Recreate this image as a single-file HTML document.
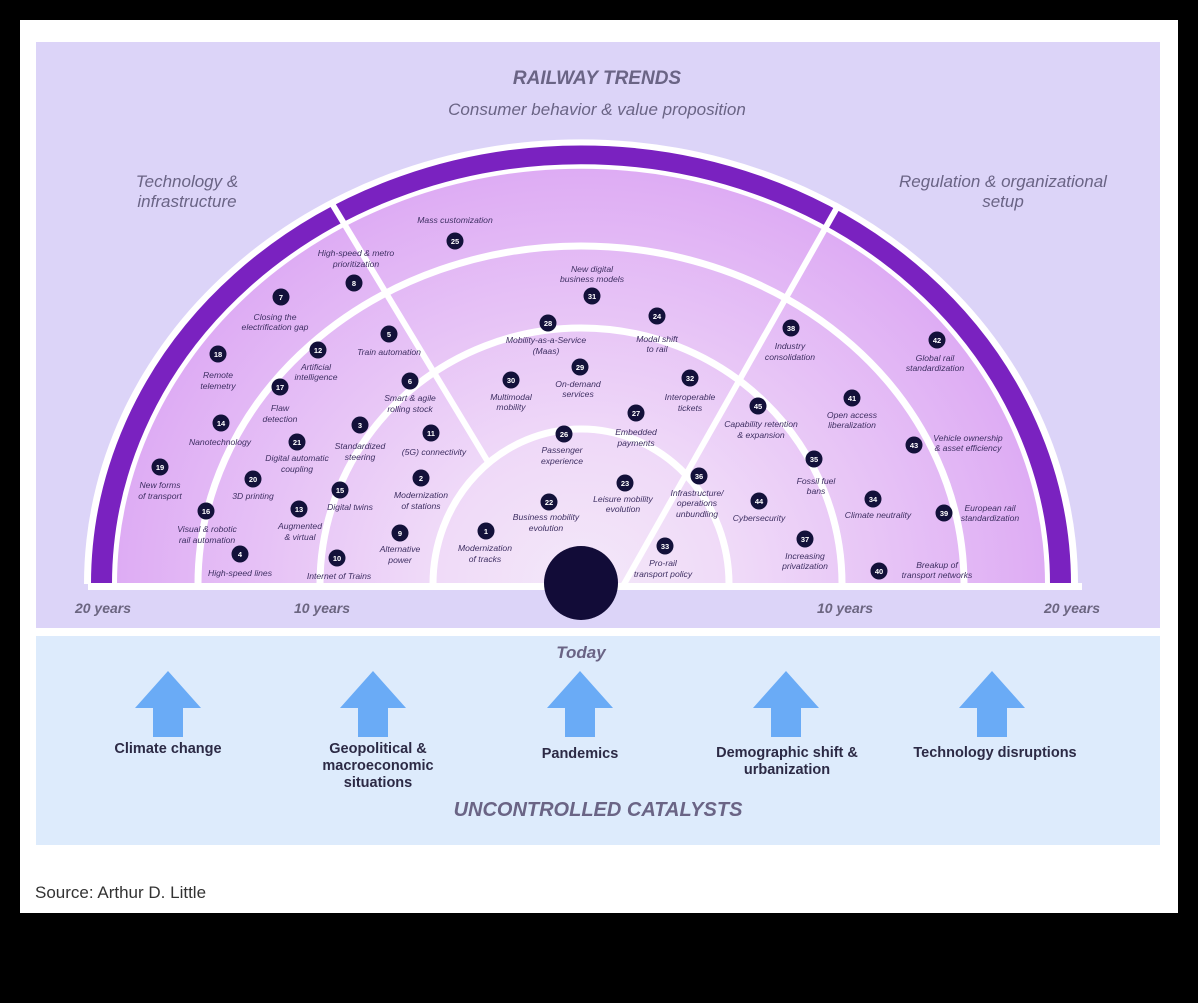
<!DOCTYPE html>
<html><head><meta charset="utf-8"><style>
html,body{margin:0;padding:0;background:#000;}
body{width:1198px;height:1003px;overflow:hidden;position:relative;font-family:"Liberation Sans",sans-serif;}
svg{position:absolute;left:0;top:0;}
.l{font-family:"Liberation Sans",sans-serif;font-style:italic;font-size:8.6px;fill:#3e2f62;text-anchor:middle;}
.n{font-family:"Liberation Sans",sans-serif;font-weight:bold;font-size:7.5px;fill:#fff;text-anchor:middle;}
.h{font-family:"Liberation Sans",sans-serif;font-style:italic;fill:#6a6485;text-anchor:middle;}
.y{font-family:"Liberation Sans",sans-serif;font-style:italic;font-weight:bold;font-size:14px;fill:#6b6580;text-anchor:middle;}
.c{font-family:"Liberation Sans",sans-serif;font-weight:bold;font-size:14.5px;fill:#2c2a45;text-anchor:middle;}
</style></head><body>
<svg width="1198" height="1003" viewBox="0 0 1198 1003">
<defs>
<radialGradient id="g" cx="0" cy="0" r="464" gradientUnits="userSpaceOnUse">
<stop offset="0" stop-color="#f4e8f9"/><stop offset="0.35" stop-color="#efd9f8"/><stop offset="1" stop-color="#deacf4"/>
</radialGradient>
</defs>
<rect x="20" y="20" width="1158" height="893" fill="#fff"/>
<rect x="36" y="42" width="1124" height="586" fill="#dcd4f8"/>
<rect x="36" y="636" width="1124" height="209" fill="#ddebfc"/>

<text class="h" x="597" y="84" font-size="19" font-weight="bold">RAILWAY TRENDS</text>
<text class="h" x="597" y="115" font-size="17">Consumer behavior &amp; value proposition</text>
<text class="h" x="187" y="187" font-size="17">Technology &amp;</text>
<text class="h" x="187" y="207" font-size="17">infrastructure</text>
<text class="h" x="1003" y="187" font-size="17">Regulation &amp; organizational</text>
<text class="h" x="1003" y="207" font-size="17">setup</text>

<g transform="translate(581,584) scale(1,0.895)">
<path d="M -497 0 A 497 497 0 0 1 497 0 Z" fill="#fff"/>
<path d="M -479.5 0 A 479.5 479.5 0 0 1 479.5 0" fill="none" stroke="#7a22c0" stroke-width="21"/>
<path d="M -464 0 A 464 464 0 0 1 464 0 Z" fill="url(#g)"/>
</g>
<g transform="translate(581,584)" fill="none" stroke="#fff" stroke-width="7">
<path d="M -383 0 A 383 338 0 0 1 383 0"/>
<path d="M -261 0 A 261 256 0 0 1 261 0"/>
<path d="M -148 0 A 148 155 0 0 1 148 0"/>
</g>
<rect x="88" y="583" width="994" height="7" fill="#fff"/>
<line x1="331" y1="202" x2="488" y2="462" stroke="#fff" stroke-width="6"/>
<line x1="839" y1="204" x2="623" y2="586" stroke="#fff" stroke-width="6"/>
<circle cx="581" cy="583" r="37" fill="#120c38"/>

<text class="y" x="103" y="613">20 years</text>
<text class="y" x="322" y="613">10 years</text>
<text class="y" x="845" y="613">10 years</text>
<text class="y" x="1072" y="613">20 years</text>

<g id="badges">
<circle cx="455" cy="241" r="8.5" fill="#13113a"/><text class="n" x="455" y="244">25</text>
<text class="l" x="455" y="223">Mass customization</text>
<circle cx="354" cy="283" r="8.5" fill="#13113a"/><text class="n" x="354" y="286">8</text>
<text class="l" x="356" y="256">High-speed &amp; metro</text><text class="l" x="356" y="267">prioritization</text>
<circle cx="281" cy="297" r="8.5" fill="#13113a"/><text class="n" x="281" y="300">7</text>
<text class="l" x="275" y="320">Closing the</text><text class="l" x="275" y="330">electrification gap</text>
<circle cx="218" cy="354" r="8.5" fill="#13113a"/><text class="n" x="218" y="357">18</text>
<text class="l" x="218" y="378">Remote</text><text class="l" x="218" y="389">telemetry</text>
<circle cx="318" cy="350" r="8.5" fill="#13113a"/><text class="n" x="318" y="353">12</text>
<text class="l" x="316" y="370">Artificial</text><text class="l" x="316" y="380">intelligence</text>
<circle cx="389" cy="334" r="8.5" fill="#13113a"/><text class="n" x="389" y="337">5</text>
<text class="l" x="389" y="355">Train automation</text>
<circle cx="280" cy="387" r="8.5" fill="#13113a"/><text class="n" x="280" y="390">17</text>
<text class="l" x="280" y="411">Flaw</text><text class="l" x="280" y="422">detection</text>
<circle cx="410" cy="381" r="8.5" fill="#13113a"/><text class="n" x="410" y="384">6</text>
<text class="l" x="410" y="401">Smart &amp; agile</text><text class="l" x="410" y="412">rolling stock</text>
<circle cx="221" cy="423" r="8.5" fill="#13113a"/><text class="n" x="221" y="426">14</text>
<text class="l" x="220" y="445">Nanotechnology</text>
<circle cx="360" cy="425" r="8.5" fill="#13113a"/><text class="n" x="360" y="428">3</text>
<text class="l" x="360" y="449">Standardized</text><text class="l" x="360" y="460">steering</text>
<circle cx="431" cy="433" r="8.5" fill="#13113a"/><text class="n" x="431" y="436">11</text>
<text class="l" x="434" y="455">(5G) connectivity</text>
<circle cx="297" cy="442" r="8.5" fill="#13113a"/><text class="n" x="297" y="445">21</text>
<text class="l" x="297" y="461">Digital automatic</text><text class="l" x="297" y="472">coupling</text>
<circle cx="160" cy="467" r="8.5" fill="#13113a"/><text class="n" x="160" y="470">19</text>
<text class="l" x="160" y="488">New forms</text><text class="l" x="160" y="499">of transport</text>
<circle cx="253" cy="479" r="8.5" fill="#13113a"/><text class="n" x="253" y="482">20</text>
<text class="l" x="253" y="499">3D printing</text>
<circle cx="421" cy="478" r="8.5" fill="#13113a"/><text class="n" x="421" y="481">2</text>
<text class="l" x="421" y="498">Modernization</text><text class="l" x="421" y="509">of stations</text>
<circle cx="340" cy="490" r="8.5" fill="#13113a"/><text class="n" x="340" y="493">15</text>
<text class="l" x="350" y="510">Digital twins</text>
<circle cx="206" cy="511" r="8.5" fill="#13113a"/><text class="n" x="206" y="514">16</text>
<text class="l" x="207" y="532">Visual &amp; robotic</text><text class="l" x="207" y="543">rail automation</text>
<circle cx="299" cy="509" r="8.5" fill="#13113a"/><text class="n" x="299" y="512">13</text>
<text class="l" x="300" y="529">Augmented</text><text class="l" x="300" y="540">&amp; virtual</text>
<circle cx="400" cy="533" r="8.5" fill="#13113a"/><text class="n" x="400" y="536">9</text>
<text class="l" x="400" y="552">Alternative</text><text class="l" x="400" y="563">power</text>
<circle cx="240" cy="554" r="8.5" fill="#13113a"/><text class="n" x="240" y="557">4</text>
<text class="l" x="240" y="576">High-speed lines</text>
<circle cx="337" cy="558" r="8.5" fill="#13113a"/><text class="n" x="337" y="561">10</text>
<text class="l" x="339" y="579">Internet of Trains</text>
<circle cx="486" cy="531" r="8.5" fill="#13113a"/><text class="n" x="486" y="534">1</text>
<text class="l" x="485" y="551">Modernization</text><text class="l" x="485" y="562">of tracks</text>
<circle cx="592" cy="296" r="8.5" fill="#13113a"/><text class="n" x="592" y="299">31</text>
<text class="l" x="592" y="272">New digital</text><text class="l" x="592" y="282">business models</text>
<circle cx="548" cy="323" r="8.5" fill="#13113a"/><text class="n" x="548" y="326">28</text>
<text class="l" x="546" y="343">Mobility-as-a-Service</text><text class="l" x="546" y="354">(Maas)</text>
<circle cx="657" cy="316" r="8.5" fill="#13113a"/><text class="n" x="657" y="319">24</text>
<text class="l" x="657" y="342">Modal shift</text><text class="l" x="657" y="352">to rail</text>
<circle cx="580" cy="367" r="8.5" fill="#13113a"/><text class="n" x="580" y="370">29</text>
<text class="l" x="578" y="387">On-demand</text><text class="l" x="578" y="397">services</text>
<circle cx="511" cy="380" r="8.5" fill="#13113a"/><text class="n" x="511" y="383">30</text>
<text class="l" x="511" y="400">Multimodal</text><text class="l" x="511" y="410">mobility</text>
<circle cx="690" cy="378" r="8.5" fill="#13113a"/><text class="n" x="690" y="381">32</text>
<text class="l" x="690" y="400">Interoperable</text><text class="l" x="690" y="411">tickets</text>
<circle cx="636" cy="413" r="8.5" fill="#13113a"/><text class="n" x="636" y="416">27</text>
<text class="l" x="636" y="435">Embedded</text><text class="l" x="636" y="446">payments</text>
<circle cx="564" cy="434" r="8.5" fill="#13113a"/><text class="n" x="564" y="437">26</text>
<text class="l" x="562" y="453">Passenger</text><text class="l" x="562" y="464">experience</text>
<circle cx="625" cy="483" r="8.5" fill="#13113a"/><text class="n" x="625" y="486">23</text>
<text class="l" x="623" y="502">Leisure mobility</text><text class="l" x="623" y="512">evolution</text>
<circle cx="549" cy="502" r="8.5" fill="#13113a"/><text class="n" x="549" y="505">22</text>
<text class="l" x="546" y="520">Business mobility</text><text class="l" x="546" y="531">evolution</text>
<circle cx="665" cy="546" r="8.5" fill="#13113a"/><text class="n" x="665" y="549">33</text>
<text class="l" x="663" y="566">Pro-rail</text><text class="l" x="663" y="577">transport policy</text>
<circle cx="791" cy="328" r="8.5" fill="#13113a"/><text class="n" x="791" y="331">38</text>
<text class="l" x="790" y="349">Industry</text><text class="l" x="790" y="360">consolidation</text>
<circle cx="937" cy="340" r="8.5" fill="#13113a"/><text class="n" x="937" y="343">42</text>
<text class="l" x="935" y="361">Global rail</text><text class="l" x="935" y="371">standardization</text>
<circle cx="852" cy="398" r="8.5" fill="#13113a"/><text class="n" x="852" y="401">41</text>
<text class="l" x="852" y="418">Open access</text><text class="l" x="852" y="428">liberalization</text>
<circle cx="758" cy="406" r="8.5" fill="#13113a"/><text class="n" x="758" y="409">45</text>
<text class="l" x="761" y="427">Capability retention</text><text class="l" x="761" y="438">&amp; expansion</text>
<circle cx="914" cy="445" r="8.5" fill="#13113a"/><text class="n" x="914" y="448">43</text>
<text class="l" x="968" y="441">Vehicle ownership</text><text class="l" x="968" y="451">&amp; asset efficiency</text>
<circle cx="814" cy="459" r="8.5" fill="#13113a"/><text class="n" x="814" y="462">35</text>
<text class="l" x="816" y="484">Fossil fuel</text><text class="l" x="816" y="494">bans</text>
<circle cx="699" cy="476" r="8.5" fill="#13113a"/><text class="n" x="699" y="479">36</text>
<text class="l" x="697" y="496">Infrastructure/</text><text class="l" x="697" y="506">operations</text><text class="l" x="697" y="517">unbundling</text>
<circle cx="759" cy="501" r="8.5" fill="#13113a"/><text class="n" x="759" y="504">44</text>
<text class="l" x="759" y="521">Cybersecurity</text>
<circle cx="873" cy="499" r="8.5" fill="#13113a"/><text class="n" x="873" y="502">34</text>
<text class="l" x="878" y="518">Climate neutrality</text>
<circle cx="944" cy="513" r="8.5" fill="#13113a"/><text class="n" x="944" y="516">39</text>
<text class="l" x="990" y="511">European rail</text><text class="l" x="990" y="521">standardization</text>
<circle cx="805" cy="539" r="8.5" fill="#13113a"/><text class="n" x="805" y="542">37</text>
<text class="l" x="805" y="559">Increasing</text><text class="l" x="805" y="569">privatization</text>
<circle cx="879" cy="571" r="8.5" fill="#13113a"/><text class="n" x="879" y="574">40</text>
<text class="l" x="937" y="568">Breakup of</text><text class="l" x="937" y="578">transport networks</text>
</g>

<text class="h" x="581" y="658" font-size="17" font-weight="bold">Today</text>
<g fill="#6aabf6">
<polygon points="168,671 201,708 183,708 183,737 153,737 153,708 135,708"/>
<polygon points="373,671 406,708 388,708 388,737 358,737 358,708 340,708"/>
<polygon points="580,671 613,708 595,708 595,737 565,737 565,708 547,708"/>
<polygon points="786,671 819,708 801,708 801,737 771,737 771,708 753,708"/>
<polygon points="992,671 1025,708 1007,708 1007,737 977,737 977,708 959,708"/>
</g>
<text class="c" x="168" y="753">Climate change</text>
<text class="c" x="378" y="753">Geopolitical &amp;</text>
<text class="c" x="378" y="770">macroeconomic</text>
<text class="c" x="378" y="787">situations</text>
<text class="c" x="580" y="758">Pandemics</text>
<text class="c" x="787" y="757">Demographic shift &amp;</text>
<text class="c" x="787" y="774">urbanization</text>
<text class="c" x="995" y="757">Technology disruptions</text>
<text class="h" x="598" y="816" font-size="20" font-weight="bold">UNCONTROLLED CATALYSTS</text>
<text x="35" y="898" font-family="Liberation Sans, sans-serif" font-size="17" fill="#333">Source: Arthur D. Little</text>
</svg>
</body></html>
